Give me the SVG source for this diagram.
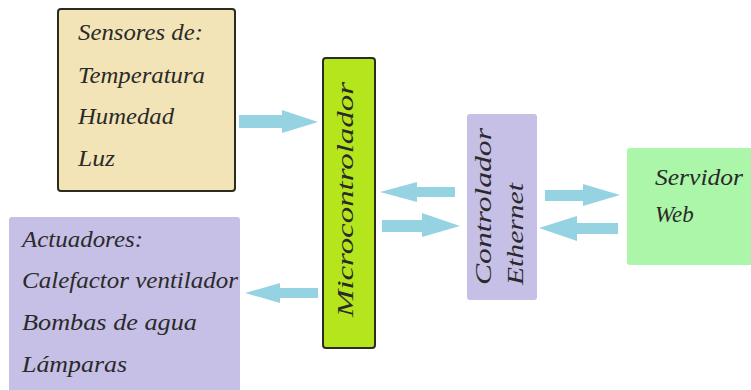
<svg xmlns="http://www.w3.org/2000/svg" width="751" height="390" viewBox="0 0 751 390">
<style>
.t{font-family:"Liberation Serif","DejaVu Serif",serif;font-style:italic;font-size:23px;fill:#2a2a2a;}
.ar{fill:#95d3e3;}
</style>
<rect width="751" height="390" fill="#ffffff"/>
<g id="sensores">
<rect x="58" y="9" width="177" height="182" rx="3" fill="#f2e4b7" stroke="#2b2b22" stroke-width="2"/>
<text class="t" x="78" y="40" textLength="125" lengthAdjust="spacingAndGlyphs">Sensores de:</text>
<text class="t" x="78" y="83" textLength="127" lengthAdjust="spacingAndGlyphs">Temperatura</text>
<text class="t" x="78" y="124" textLength="96" lengthAdjust="spacingAndGlyphs">Humedad</text>
<text class="t" x="78" y="166" textLength="37" lengthAdjust="spacingAndGlyphs">Luz</text>
</g>
<g id="actuadores">
<rect x="9" y="217" width="231" height="180" rx="3" fill="#c6bfe6"/>
<text class="t" x="22" y="247" textLength="121" lengthAdjust="spacingAndGlyphs">Actuadores:</text>
<text class="t" x="22" y="288" textLength="216" lengthAdjust="spacingAndGlyphs">Calefactor ventilador</text>
<text class="t" x="22" y="330" textLength="175" lengthAdjust="spacingAndGlyphs">Bombas de agua</text>
<text class="t" x="22" y="372" textLength="105" lengthAdjust="spacingAndGlyphs">Lámparas</text>
</g>
<g id="microcontrolador">
<rect x="323" y="58" width="52" height="290" rx="3" fill="#b5e61d" stroke="#2b2b22" stroke-width="2"/>
<text class="t" transform="translate(353,317) rotate(-90)" x="0" y="0" textLength="235" lengthAdjust="spacingAndGlyphs">Microcontrolador</text>
</g>
<g id="ethernet">
<rect x="467" y="114" width="70" height="186" rx="3" fill="#c6bfe6"/>
<text class="t" transform="translate(491,285) rotate(-90)" x="0" y="0" textLength="157" lengthAdjust="spacingAndGlyphs">Controlador</text>
<text class="t" transform="translate(523,285) rotate(-90)" x="0" y="0" textLength="102" lengthAdjust="spacingAndGlyphs">Ethernet</text>
</g>
<g id="servidor">
<rect x="627" y="148" width="130" height="117" rx="3" fill="#abf6a8"/>
<text class="t" x="655" y="185" textLength="88" lengthAdjust="spacingAndGlyphs">Servidor</text>
<text class="t" x="655" y="222">Web</text>
</g>
<g id="conectores">
<polygon class="ar" points="239,115 282,115 282,110 318,122 282,133 282,128 239,128"/>
<polygon class="ar" points="318,288 280,288 280,283 245,293 280,303 280,298 318,298"/>
<polygon class="ar" points="455,187 417,187 417,182 380,192 417,202 417,197 455,197"/>
<polygon class="ar" points="382,220 422,220 422,213 460,226 422,237 422,232 382,232"/>
<polygon class="ar" points="545,190 583,190 583,184 620,195 583,206 583,201 545,201"/>
<polygon class="ar" points="618,223 577,223 577,216 539,228 577,241 577,234 618,234"/>
</g>
</svg>
